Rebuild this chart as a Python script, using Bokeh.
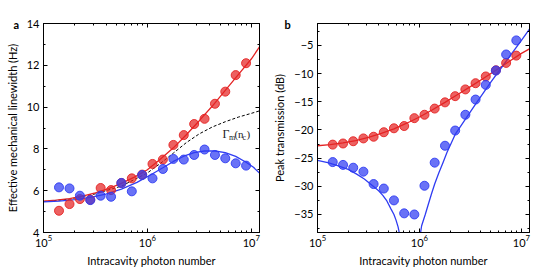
from bokeh.plotting import figure
from bokeh.layouts import row
from bokeh.models import (LogAxis, LinearAxis, FixedTicker, SingleIntervalTicker,
                          Label, CustomJSTickFormatter)
from bokeh.embed import file_html
from bokeh.resources import INLINE

# ---------------- data ----------------
n_pts = [1.41e5, 1.78e5, 2.24e5, 2.82e5, 3.55e5, 4.47e5, 5.62e5, 7.08e5, 8.91e5,
         1.12e6, 1.41e6, 1.78e6, 2.24e6, 2.82e6, 3.55e6, 4.47e6, 5.62e6, 7.08e6, 8.91e6]

# panel a: effective mechanical linewidth (Hz)
lw_red = [5.04, 5.36, 5.60, 5.57, 6.13, 6.03, 6.37, 6.59, 6.77, 7.28, 7.49, 8.19,
          8.66, 9.19, 9.44, 10.16, 10.74, 11.53, 12.10]
lw_blue = [6.16, 6.11, 5.76, 5.55, 5.76, 5.71, 6.37, 5.97, 6.75, 6.59, 7.04, 7.52,
           7.49, 7.71, 7.97, 7.71, 7.55, 7.31, 7.20]

fit_a_red_x = [1.0e5, 1.33e5, 1.78e5, 2.37e5, 3.16e5, 4.22e5, 5.62e5, 7.5e5, 1.0e6, 1.33e6,
               1.78e6, 2.37e6, 3.16e6, 4.22e6, 5.62e6, 7.5e6, 1.0e7, 1.2e7]
fit_a_red_y = [5.50, 5.55, 5.62, 5.74, 5.90, 6.10, 6.35, 6.65, 7.00, 7.50,
               8.05, 8.68, 9.35, 10.05, 10.80, 11.55, 12.30, 12.88]

fit_a_blue_x = [1.0e5, 1.41e5, 2.0e5, 2.82e5, 3.98e5, 5.62e5, 7.94e5, 1.07e6, 1.41e6, 1.78e6,
                2.24e6, 2.82e6, 3.55e6, 4.47e6, 5.62e6, 7.08e6, 8.91e6, 1.05e7, 1.2e7]
fit_a_blue_y = [5.47, 5.50, 5.57, 5.68, 5.84, 6.08, 6.40, 6.75, 7.10, 7.40,
                7.65, 7.82, 7.90, 7.90, 7.82, 7.64, 7.36, 7.12, 6.84]

gamma_x = [1.0e5, 1.78e5, 3.16e5, 5.62e5, 1.0e6, 1.33e6, 1.78e6, 2.37e6, 3.16e6, 4.22e6,
           5.62e6, 7.5e6, 1.0e7, 1.2e7]
gamma_y = [5.48, 5.60, 5.85, 6.22, 6.85, 7.30, 7.80, 8.30, 8.72, 9.05,
           9.30, 9.52, 9.70, 9.82]

# panel b: peak transmission (dB)
tr_red = [-22.6, -22.4, -22.0, -21.5, -21.2, -20.4, -19.7, -19.3, -17.9, -17.3,
          -16.2, -15.1, -14.0, -12.8, -11.7, -10.5, -9.4, -8.1, -6.8]
tr_blue = [-25.7, -26.2, -26.7, -27.4, -29.6, -30.4, -32.5, -34.8, -35.0, -29.9,
           -25.8, -22.8, -20.1, -17.3, -14.6, -12.0, -9.45, -6.6, -4.1]

fit_b_red_x = [1.0e5, 1.33e5, 1.78e5, 2.37e5, 3.16e5, 4.22e5, 5.62e5, 7.5e5, 1.0e6, 1.33e6,
               1.78e6, 2.37e6, 3.16e6, 4.22e6, 5.62e6, 7.5e6, 1.0e7, 1.2e7]
fit_b_red_y = [-22.8, -22.6, -22.3, -21.9, -21.3, -20.6, -19.8, -18.8, -17.7, -16.45,
               -15.1, -13.7, -12.3, -10.85, -9.4, -7.9, -6.4, -5.6]

fit_b_blue_lo_x = [1.0e5, 1.26e5, 1.55e5, 2.0e5, 2.4e5, 2.88e5, 3.47e5, 3.98e5, 4.37e5,
                   4.79e5, 5.25e5, 5.62e5, 5.89e5, 6.17e5, 6.46e5]
fit_b_blue_lo_y = [-25.4, -25.8, -26.3, -27.0, -27.8, -28.7, -29.9, -30.8, -31.6,
                   -32.6, -34.0, -35.0, -36.0, -37.2, -39.0]
fit_b_blue_hi_x = [1.01e6, 1.05e6, 1.14e6, 1.23e6, 1.32e6, 1.41e6, 1.55e6, 1.70e6, 1.86e6,
                   2.24e6, 2.75e6, 3.55e6, 5.01e6, 7.08e6, 1.0e7, 1.2e7]
fit_b_blue_hi_y = [-39.0, -37.0, -35.0, -33.0, -31.2, -29.6, -27.6, -25.8, -24.0,
                   -20.8, -18.4, -15.4, -11.5, -7.8, -4.1, -2.1]

x_major = [1e5, 1e6, 1e7]
x_minor = [2e5, 3e5, 4e5, 5e5, 6e5, 7e5, 8e5, 9e5, 2e6, 3e6, 4e6, 5e6, 6e6, 7e6, 8e6, 9e6]

RED = "#e42424"
BLUE = "#2f3cf2"
FONT = "Lato"


def style(p, yticker, xlabel, ylabel, panel, panel_offset):
    xt = FixedTicker(ticks=x_major, minor_ticks=x_minor)
    xa = p.below[0]
    ya = p.left[0]
    xa.ticker = xt
    ya.ticker = yticker
    xa.axis_label = xlabel
    ya.axis_label = ylabel
    for ax in (xa, ya):
        ax.major_tick_in = 4
        ax.major_tick_out = 0
        ax.minor_tick_in = 2
        ax.minor_tick_out = 0
        ax.axis_line_color = "black"
        ax.major_tick_line_color = "black"
        ax.minor_tick_line_color = "black"
        ax.major_label_text_font = FONT
        ax.major_label_text_font_size = "11px"
        ax.major_label_text_color = "black"
        ax.axis_label_text_font = FONT
        ax.axis_label_text_font_size = "11px"
        ax.axis_label_text_font_style = "normal"
        ax.axis_label_text_color = "black"
    xa.major_label_standoff = 2
    xa.axis_label_standoff = 4
    ya.major_label_standoff = 4
    ya.axis_label_standoff = 5
    top = LogAxis(ticker=xt, formatter=CustomJSTickFormatter(code="return ''"),
                  major_tick_in=4, major_tick_out=0,
                  minor_tick_in=2, minor_tick_out=0, major_label_standoff=0,
                  major_label_text_font_size="0px", axis_line_color="black")
    right = LinearAxis(ticker=yticker, formatter=CustomJSTickFormatter(code="return ''"),
                       major_tick_in=4, major_tick_out=0, minor_tick_in=2, minor_tick_out=0,
                       major_label_standoff=0, major_label_text_font_size="0px",
                       axis_line_color="black")
    p.add_layout(top, "above")
    p.add_layout(right, "right")
    p.title.text = panel
    p.title.align = "left"
    p.title.offset = panel_offset
    p.title.standoff = -15
    p.title.text_font = FONT
    p.title.text_font_size = "11px"
    p.title.text_font_style = "bold"
    p.title.text_color = "black"
    p.grid.visible = False
    p.outline_line_color = "black"
    p.outline_line_alpha = 1
    p.background_fill_color = "white"
    p.border_fill_color = "white"


# ---------------- panel a ----------------
pa = figure(width=270, height=274, x_axis_type="log", x_range=(1e5, 1.2e7), y_range=(4, 14),
            output_backend="svg", toolbar_location=None,
            min_border_left=43, min_border_right=11, min_border_top=23, min_border_bottom=42)
style(pa, SingleIntervalTicker(interval=2, num_minor_ticks=2),
      "Intracavity photon number", "Effective mechanical linewidth (Hz)", "a", -30)

pa.line(gamma_x, gamma_y, line_color="black", line_dash="3 2", line_width=1)
pa.line(fit_a_red_x, fit_a_red_y, line_color=RED, line_width=1.3)
pa.line(fit_a_blue_x, fit_a_blue_y, line_color=BLUE, line_width=1.3)
pa.scatter(n_pts, lw_red, size=9, fill_color=RED, fill_alpha=0.72, line_color=RED, line_alpha=0.9)
pa.scatter(n_pts, lw_blue, size=9, fill_color=BLUE, fill_alpha=0.72, line_color=BLUE, line_alpha=0.9)

SER = "Liberation Serif"
gx = 5.28e6
for txt, dx, yy, fs in [("Γ", 0, 8.69, "12px"), ("m", 6.5, 8.55, "8px"),
                        ("(n", 12, 8.69, "11px"), ("c", 20, 8.55, "8px"), (")", 24, 8.69, "11px")]:
    pa.add_layout(Label(x=gx, y=yy, x_offset=dx, text=txt, text_font=SER, text_font_size=fs,
                        text_color="#222222", text_align="left", text_baseline="alphabetic"))

# ---------------- panel b ----------------
pb = figure(width=267, height=274, x_axis_type="log", x_range=(1e5, 1.2e7), y_range=(-38.2, -1.1),
            output_backend="svg", toolbar_location=None,
            min_border_left=43, min_border_right=8, min_border_top=23, min_border_bottom=42)
style(pb, SingleIntervalTicker(interval=5, num_minor_ticks=2),
      "Intracavity photon number", "Peak transmission (dB)", "b", -33)

pb.line(fit_b_red_x, fit_b_red_y, line_color=RED, line_width=1.3)
pb.line(fit_b_blue_lo_x, fit_b_blue_lo_y, line_color=BLUE, line_width=1.3)
pb.line(fit_b_blue_hi_x, fit_b_blue_hi_y, line_color=BLUE, line_width=1.3)
pb.scatter(n_pts, tr_red, size=9, fill_color=RED, fill_alpha=0.72, line_color=RED, line_alpha=0.9)
pb.scatter(n_pts, tr_blue, size=9, fill_color=BLUE, fill_alpha=0.72, line_color=BLUE, line_alpha=0.9)

layout = row(pa, pb)
open("out.html", "w").write(file_html(layout, INLINE))
